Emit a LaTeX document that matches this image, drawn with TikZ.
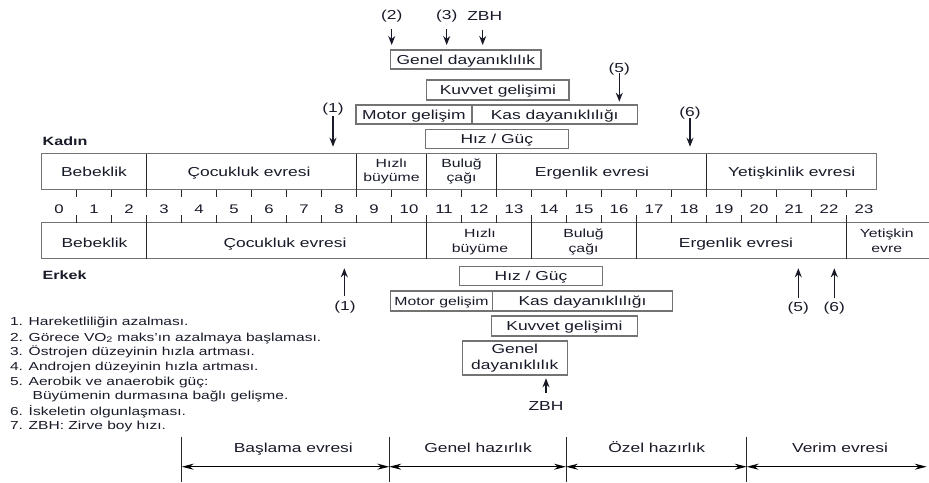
\documentclass[tikz,border=0pt]{standalone}
\usepackage{fontspec}
\setmainfont{Liberation Sans}[FakeStretch=1.34]
\usetikzlibrary{arrows.meta}
\definecolor{txt}{RGB}{24,26,40}
\definecolor{bord}{RGB}{115,115,115}
\definecolor{linec}{RGB}{40,40,40}
\begin{document}
\begin{tikzpicture}[x=1pt,y=-1pt,
  every node/.style={text=txt, inner sep=0pt, outer sep=0pt},
  lbl/.style={font=\fontsize{13}{14}\selectfont, text height=9.3pt, text depth=0pt},
  num/.style={font=\fontsize{12.5}{14}\selectfont, text height=9pt, text depth=0pt},
  hd/.style={font=\fontsize{12}{14}\selectfont\bfseries, text height=8.6pt, text depth=0pt, anchor=west},
  smlA/.style={font=\fontsize{11.8}{14.4}\selectfont, align=center},
  smlB/.style={font=\fontsize{11.8}{15}\selectfont, align=center},
  leg/.style={font=\fontsize{11.6}{13}\selectfont, text height=8.3pt, text depth=0pt, anchor=west},
  boxbase/.style={draw=bord, line width=1.2pt, anchor=north west, font=\fontsize{13}{15.3}\selectfont},
  boxn/.style={boxbase, text height=9.3pt, text depth=0pt},
  arr/.style={-{Stealth[length=9pt,width=7pt]}, line width=1.4pt, draw=txt},
  dbl/.style={{Stealth[length=12pt,width=6pt]}-{Stealth[length=12pt,width=6pt]}, line width=1pt, draw=black},
  bar/.style={draw=bord, line width=1.1pt},
  tick/.style={draw=linec, line width=1.1pt}
]
\path[use as bounding box, fill=white] (0,0) rectangle (929,482);

% ---------------- top annotations ----------------
\node[lbl] (L2) at (391.7,15.3) {(2)};
\node[lbl] (L3) at (446.7,15.3) {(3)};
\node[lbl] (LZ) at (484.7,15.5) {ZBH};
\coordinate (T2) at (391.7,45);
\coordinate (T3) at (446.7,45);
\coordinate (TZ) at (482.7,45);
\draw[arr, shorten <=9.5pt] (L2.south -| T2) -- (T2);
\draw[arr, shorten <=9.5pt] (L3.south -| T3) -- (T3);
\draw[arr, shorten <=9.5pt] (LZ.south -| TZ) -- (TZ);

\node[lbl] (L5) at (619.3,67.5) {(5)};
\coordinate (T5) at (619.3,101.7);
\draw[arr, shorten <=1pt] (L5.south -| T5) -- (T5);

\node[lbl] (L1) at (333,108.3) {(1)};
\coordinate (T1) at (333,146.7);
\draw[arr, shorten <=3.5pt] (L1.south -| T1) -- (T1);

\node[lbl] (L6) at (690,112.3) {(6)};
\coordinate (T6) at (690,146.7);
\draw[arr, shorten <=1pt] (L6.south -| T6) -- (T6);

% top boxes
\node[boxn, minimum width=150.3pt, minimum height=19pt] (GD1) at (390.7,50) {Genel dayanıklılık};
\node[boxn, minimum width=142.3pt, minimum height=20pt] (KG1) at (426.7,80) {Kuvvet gelişimi};
\node[boxn, minimum width=115.7pt, minimum height=19pt] (MG1) at (356,105) {Motor gelişim};
\node[boxn, minimum width=165pt, minimum height=19pt] (KD1) at (472.2,105) {Kas dayanıklılığı};
\node[boxn, minimum width=143pt, minimum height=19pt] (HG1) at (425.3,129.3) {Hız / Güç};

% ---------------- timeline ----------------
\node[hd] (kadin) at (42.7,140.7) {Kadın};
\node[hd] (erkek) at (42.7,275) {Erkek};

% top bar (female)
\draw[bar] (41.5,153.5) rectangle (876.5,189.5);
\foreach \k in {1,...,23} \draw[tick] ({41.5+35*\k},189.5) -- ({41.5+35*\k},197);
\foreach \k in {3,9,11,13,19} \draw[tick] ({41.5+35*\k},153.5) -- ({41.5+35*\k},197);

% bottom bar (male)
\draw[bar] (929,222.5) -- (41.5,222.5) -- (41.5,258.5) -- (929,258.5);
\foreach \k in {1,...,23} \draw[tick] ({41.5+35*\k},215) -- ({41.5+35*\k},222.5);
\foreach \k in {3,11,14,17,23} \draw[tick] ({41.5+35*\k},215) -- ({41.5+35*\k},258.5);

% ages
\foreach \k in {0,...,23} \node[num] (n\k) at ({59+35*\k},209) {\k};

% female phases
\node[lbl] (fBeb) at (94,171.7) {Bebeklik};
\node[lbl] (fCoc) at (249,171.7) {Çocukluk evresi};
\node[smlA] (fHiz) at (391.5,171.5) {Hızlı\\büyüme};
\node[smlA] (fBul) at (461.5,171.5) {Buluğ\\çağı};
\node[lbl] (fErg) at (592,171.7) {Ergenlik evresi};
\node[lbl] (fYet) at (791.7,171.7) {Yetişkinlik evresi};

% male phases
\node[lbl] (mBeb) at (94.5,242.7) {Bebeklik};
\node[lbl] (mCoc) at (285,242.7) {Çocukluk evresi};
\node[smlB] (mHiz) at (480,242) {Hızlı\\büyüme};
\node[smlB] (mBul) at (583.5,242) {Buluğ\\çağı};
\node[lbl] (mErg) at (736,242.7) {Ergenlik evresi};
\node[smlB] (mYet) at (886.7,240.5) {Yetişkin\\evre};

% ---------------- lower annotations ----------------
\node[boxn, minimum width=143.4pt, minimum height=19pt] (HG2) at (459.3,266.7) {Hız / Güç};
\node[boxn, minimum width=101.6pt, minimum height=20pt, font=\fontsize{11.8}{14}\selectfont] (MG2) at (390.7,291) {Motor gelişim};
\node[boxn, minimum width=179.4pt, minimum height=20pt] (KD2) at (492.8,291) {Kas dayanıklılığı};
\node[boxn, minimum width=145.6pt, minimum height=20pt] (KG2) at (491.7,316) {Kuvvet gelişimi};
\node[boxbase, align=center, minimum width=105pt, minimum height=34pt] (GD2) at (462.3,341) {Genel\\dayanıklılık};

\node[lbl] (M1) at (345,305.8) {(1)};
\coordinate (U1) at (344.3,268.3);
\draw[arr, shorten <=5.5pt] (M1.north -| U1) -- (U1);

\node[lbl] (MZ) at (546,405.8) {ZBH};
\coordinate (UZ) at (546,378.3);
\draw[arr, shorten <=8pt] (MZ.north -| UZ) -- (UZ);

\node[lbl] (M5) at (798.3,307) {(5)};
\coordinate (U5) at (798.3,268.3);
\draw[arr, shorten <=4pt] (M5.north -| U5) -- (U5);

\node[lbl] (M6) at (834.3,307) {(6)};
\coordinate (U6) at (834.3,268.3);
\draw[arr, shorten <=4pt] (M6.north -| U6) -- (U6);

% ---------------- legend ----------------
\node[leg] (g1) at (10,321.7) {1. Hareketliliğin azalması.};
\node[leg] (g2) at (10,337) {2. Görece VO\textsubscript{2} maks’ın azalmaya başlaması.};
\node[leg] (g3) at (10,351.7) {3. Östrojen düzeyinin hızla artması.};
\node[leg] (g4) at (10,366.7) {4. Androjen düzeyinin hızla artması.};
\node[leg] (g5) at (10,381) {5. Aerobik ve anaerobik güç:};
\node[leg] (g5b) at (32.7,395.7) {Büyümenin durmasına bağlı gelişme.};
\node[leg] (g6) at (10,411) {6. İskeletin olgunlaşması.};
\node[leg] (g7) at (10,425) {7. ZBH: Zirve boy hızı.};

% ---------------- training phases ----------------
\foreach \x/\n in {181.7/v1,389.3/v2,566/v3,746.7/v4} {
  \coordinate (\n t) at (\x,436.7);
  \coordinate (\n b) at (\x,482);
  \coordinate (\n) at (\x,466.7);
  \draw[linec, line width=1pt] (\n t) -- (\n b);
}
\coordinate (v5) at (926.7,466.7);
\draw[dbl] (v1) -- (v2);
\draw[dbl] (v2) -- (v3);
\draw[dbl] (v3) -- (v4);
\draw[dbl] (v4) -- (v5);
\node[lbl] (p1) at (293.3,447.5) {Başlama evresi};
\node[lbl] (p2) at (478,447.5) {Genel hazırlık};
\node[lbl] (p3) at (656.7,447.5) {Özel hazırlık};
\node[lbl] (p4) at (840,447.5) {Verim evresi};
\end{tikzpicture}
\end{document}
